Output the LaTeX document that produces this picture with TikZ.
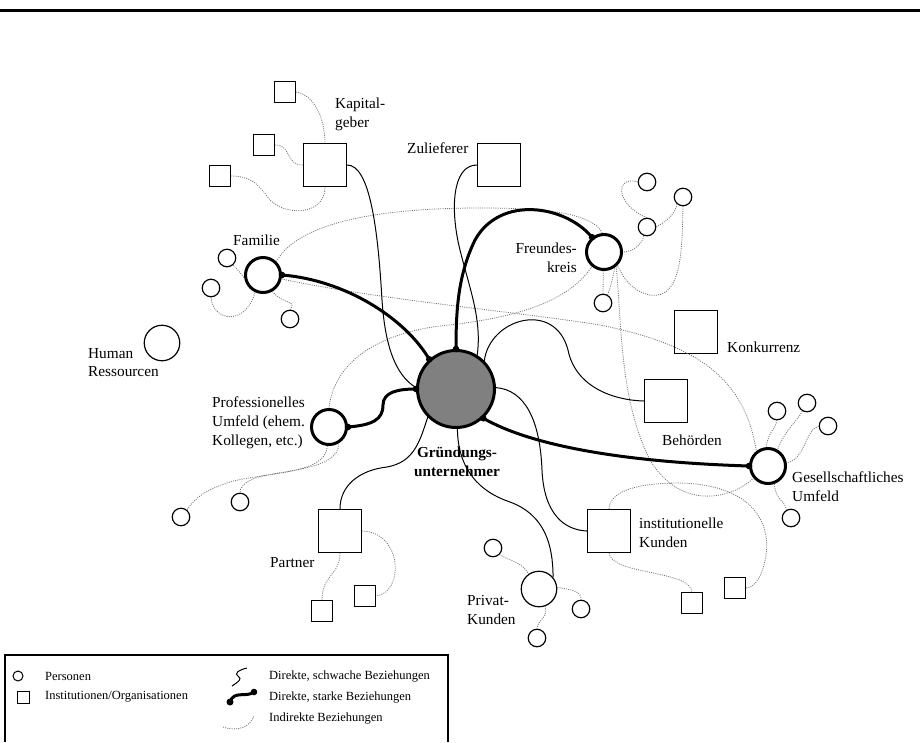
\documentclass[tikz,border=0pt]{standalone}
\usepackage{fontspec}
\setmainfont{Liberation Serif}
\begin{document}
\begin{tikzpicture}[x=1pt,y=-1pt,
 rel/.style={line width=1pt},
 strong/.style={line width=3pt},
 ind/.style={draw=black!55, line width=0.8pt, dash pattern=on 1pt off 1.2pt},
 pers/.style={circle, draw, line width=1.2pt, minimum size=17.5pt, inner sep=0pt},
 bigpers/.style={pers, minimum size=35.5pt},
 key/.style={circle, draw, line width=3pt, minimum size=35pt, inner sep=0pt},
 org/.style={rectangle, draw, line width=1.3pt, minimum size=21pt, inner sep=0pt},
 bigorg/.style={org, minimum size=43pt},
 lab/.style={inner sep=0pt, align=left, font=\fontsize{15.3}{18.7}\selectfont},
 leg/.style={inner sep=0pt, anchor=west, font=\fontsize{12.5}{15}\selectfont},
 jdot/.style={fill=black}]
\useasboundingbox (0,0) rectangle (920,742);
% top rule
\coordinate (r1) at (0,10);
\coordinate (r2) at (920,10);
\draw[line width=3pt] (r1) -- (r2);

% ---------- main nodes
\node[circle, draw, line width=3pt, fill=black!50, minimum size=77pt, inner sep=0pt] (GU) at (456,389) {};
\node[key] (Fam) at (263,275) {};
\node[key] (Prof) at (329,427) {};
\node[key] (Freu) at (604,252) {};
\node[key] (Ges) at (768,466) {};
\node[bigpers] (HR) at (162,343) {};
\node[bigpers] (PK) at (539,589) {};

\node[bigorg] (Kap) at (325,165) {};
\node[bigorg] (Zul) at (499,165) {};
\node[bigorg] (Konk) at (696,332) {};
\node[bigorg] (Beh) at (666,401) {};
\node[bigorg] (Inst) at (609,531) {};
\node[bigorg] (Part) at (340,531) {};

\node[org] (kA) at (285,92) {};
\node[org] (kB) at (264,145) {};
\node[org] (kC) at (220,176) {};
\node[org] (pA) at (322,611) {};
\node[org] (pB) at (365,596) {};
\node[org] (iA) at (692,603) {};
\node[org] (iB) at (735,588) {};

\node[pers] (fa1) at (227,258) {};
\node[pers] (fa2) at (211,288) {};
\node[pers] (fa3) at (290,319) {};
\node[pers] (fr1) at (647,182) {};
\node[pers] (fr2) at (683,197) {};
\node[pers] (fr3) at (647,227) {};
\node[pers] (fr4) at (603,303) {};
\node[pers] (pr1) at (240,502) {};
\node[pers] (pr2) at (181,517) {};
\node[pers] (pk1) at (493,548) {};
\node[pers] (pk2) at (581,609) {};
\node[pers] (pk3) at (537,638) {};
\node[pers] (g1) at (777,411) {};
\node[pers] (g2) at (807,403) {};
\node[pers] (g3) at (828,426) {};
\node[pers] (g4) at (791,518) {};

% ---------- labels
\node[lab, anchor=north west] (tKap) at (335,98) {Kapital-\\geber};
\node[lab, anchor=north west] (tZul) at (407,143) {Zulieferer};
\node[lab, anchor=north west] (tFam) at (233,235) {Familie};
\node[lab, anchor=north west] (tHR) at (88,348) {Human\\Ressourcen};
\node[lab, anchor=north west] (tProf) at (212,397) {Professionelles\\Umfeld (ehem.\\Kollegen, etc.)};
\node[lab, anchor=north east, align=right] (tFreu) at (577,243) {Freundes-\\kreis};
\node[lab, anchor=north west] (tKonk) at (727,342) {Konkurrenz};
\node[lab, anchor=north west] (tBeh) at (662,435) {Behörden};
\node[lab, anchor=north west] (tGes) at (792,472) {Gesellschaftliches\\Umfeld};
\node[lab, anchor=north west] (tInst) at (639,518) {institutionelle\\Kunden};
\node[lab, anchor=north west] (tPart) at (270,557) {Partner};
\node[lab, anchor=north west] (tPK) at (467,595) {Privat-\\Kunden};
\node[lab, anchor=north, align=center, font=\fontsize{15.3}{18.7}\selectfont\bfseries] (tGU) at (457,447) {Gründungs-\\unternehmer};

% ---------- indirect relations (dotted)
\draw[ind] (kA.east) .. controls (315,95) and (325,120) .. (Kap.north);
\draw[ind] (kB.east) .. controls (292,145) and (285,165) .. (Kap.west);
\draw[ind] (kC.east) .. controls (255,176) and (262,190) .. (270,200) .. controls (285,216) and (325,216) .. (Kap.south);

\draw[ind] (fa1.-50) .. controls (236,268) and (240,272) .. (Fam.190);
\draw[ind] (fa2.south) .. controls (213,322) and (246,326) .. (Fam.-115);
\draw[ind] (Fam.-60) .. controls (283,305) and (298,300) .. (fa3.north);
\draw[ind] (Fam.45) .. controls (298,222) and (380,208) .. (480,208) .. controls (540,208) and (592,212) .. (Freu.95);
\draw[ind] (Fam.-12) .. controls (380,300) and (520,312) .. (600,325) .. controls (700,345) and (745,380) .. (Ges.128);

\draw[ind] (fr1.180) .. controls (615,175) and (615,205) .. (fr3.north);
\draw[ind] (fr3.-110) .. controls (642,245) and (632,252) .. (Freu.0);
\draw[ind] (fr2.-130) .. controls (675,215) and (665,222) .. (fr3.east);
\draw[ind] (fr2.south) .. controls (682,250) and (682,300) .. (650,295) .. controls (635,292) and (625,282) .. (Freu.-45);
\draw[ind] (fr4.north) -- (Freu.-92);
\draw[ind] (fr4.60) .. controls (610,288) and (612,282) .. (Freu.-55);
\draw[ind] (Freu.-50) .. controls (622,330) and (620,400) .. (650,460) .. controls (680,510) and (730,500) .. (Ges.-140);
\draw[ind] (Freu.-130) .. controls (570,300) and (520,318) .. (440,326) .. controls (390,332) and (335,355) .. (Prof.north);

\draw[ind] (Prof.-95) .. controls (326,475) and (265,472) .. (230,482) .. controls (205,490) and (195,498) .. (pr2.50);
\draw[ind] (Prof.-60) .. controls (340,470) and (280,470) .. (255,478) .. controls (243,483) and (240,488) .. (pr1.north);

\draw[ind] (Part.south) .. controls (340,575) and (322,575) .. (pA.north);
\draw[ind] (Part.east) .. controls (402,532) and (405,592) .. (pB.east);

\draw[ind] (pk1.-45) .. controls (512,562) and (522,562) .. (PK.125);
\draw[ind] (PK.5) .. controls (575,590) and (581,592) .. (pk2.north);
\draw[ind] (PK.-70) .. controls (548,620) and (538,618) .. (pk3.north);

\draw[ind] (Inst.south) .. controls (612,575) and (690,570) .. (iA.north);
\draw[ind] (Inst.north) .. controls (610,490) and (640,483) .. (680,483) .. controls (760,485) and (770,530) .. (766,555) .. controls (763,575) and (755,588) .. (iB.east);

\draw[ind] (g1.south) .. controls (775,430) and (768,432) .. (Ges.95);
\draw[ind] (g2.-120) .. controls (798,420) and (785,430) .. (Ges.60);
\draw[ind] (g3.west) .. controls (805,430) and (805,460) .. (Ges.10);
\draw[ind] (Ges.-70) .. controls (775,500) and (785,500) .. (g4.120);

% ---------- direct weak relations
\draw[rel] (Kap.east) .. controls (370,165) and (378,230) .. (382,300) .. controls (385,345) and (395,375) .. (GU.178);
\draw[rel] (Zul.west) .. controls (452,165) and (450,210) .. (460,250) .. controls (470,290) and (482,320) .. (GU.58);
\draw[rel] (GU.45) .. controls (490,318) and (555,300) .. (568,350) .. controls (575,385) and (610,400) .. (Beh.west);
\draw[rel] (GU.2) .. controls (525,390) and (540,420) .. (542,470) .. controls (544,515) and (565,530) .. (Inst.west);
\draw[rel] (GU.-88) .. controls (458,470) and (480,492) .. (510,502) .. controls (545,515) and (553,545) .. (PK.40);
\draw[rel] (Part.north) .. controls (340,485) and (360,470) .. (387,467) .. controls (415,462) and (420,440) .. (GU.225);

% ---------- direct strong relations
\draw[strong] (Fam.0) .. controls (345,280) and (405,318) .. (GU.132);
\draw[strong] (Prof.0) .. controls (372,425) and (383,420) .. (383,405) .. controls (383,392) and (398,389) .. (GU.180);
\draw[strong] (Freu.129) .. controls (565,205) and (500,195) .. (475,240) .. controls (458,275) and (456,310) .. (GU.90);
\draw[strong] (Ges.180) .. controls (620,462) and (530,445) .. (GU.-47);
\foreach \a in {Fam.0, GU.132, Prof.0, GU.180, Freu.129, GU.90, Ges.180, GU.-47}
  \fill[jdot] (\a) circle (3.3pt);

% ---------- legend
\coordinate (L1) at (5,742);
\coordinate (L2) at (5,655);
\coordinate (L3) at (448,655);
\coordinate (L4) at (448,742);
\draw[line width=1.3pt] (L1) -- (L2) -- (L3) -- (L4);
\node[circle, draw, line width=1pt, minimum size=10pt, inner sep=0pt] (lgP) at (18,676) {};
\node[rectangle, draw, line width=1pt, minimum size=12pt, inner sep=0pt] (lgI) at (23,697) {};
\node[leg] (lgPt) at (45,676) {Personen};
\node[leg] (lgIt) at (45,697) {Institutionen/Organisationen};
\coordinate (s1) at (247,668);
\coordinate (s2) at (232,686);
\draw[line width=1pt] (s1) .. controls (238,670) and (234,674) .. (238,676) .. controls (243,679) and (238,682) .. (s2);
\coordinate (t1) at (230,702);
\coordinate (t2) at (254,692);
\draw[strong] (t1) .. controls (234,690) and (246,698) .. (t2);
\fill[jdot] (t1) circle (3.5pt);
\fill[jdot] (t2) circle (3.3pt);
\coordinate (u1) at (223,727);
\coordinate (u2) at (254,716);
\draw[ind] (u1) .. controls (238,732) and (250,727) .. (u2);
\node[leg] (lgW) at (269,676) {Direkte, schwache Beziehungen};
\node[leg] (lgS) at (269,697) {Direkte, starke Beziehungen};
\node[leg] (lgD) at (269,718) {Indirekte Beziehungen};
\end{tikzpicture}
\end{document}
